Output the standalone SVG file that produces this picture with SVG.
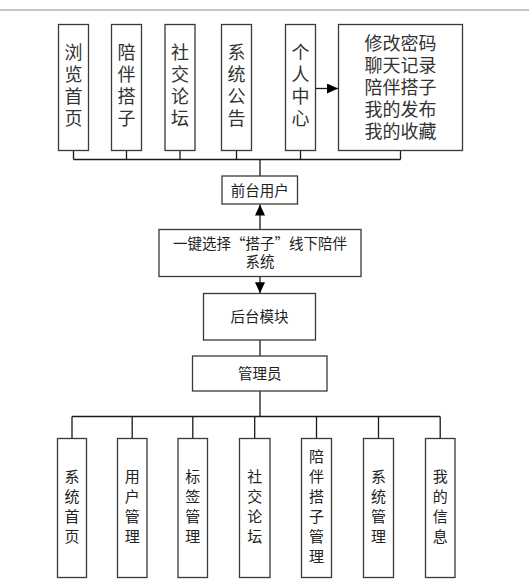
<svg xmlns="http://www.w3.org/2000/svg" width="529" height="587" viewBox="0 0 529 587">
<defs>
<style>
.box{fill:#fff;stroke:#3a3a3a;stroke-width:1.3}
.ln{fill:none;stroke:#1a1a1a;stroke-width:1.3}
.t{font-family:"Noto Sans CJK SC","Noto Sans",sans-serif;fill:#222;text-anchor:middle}
.tt{font-size:18px;fill:#333}
.tm{font-size:14.5px}
.tb{font-size:15px}
.vt{writing-mode:vertical-rl;font-size:18px;letter-spacing:4px;fill:#333}
.vb{writing-mode:vertical-rl;font-size:15px;letter-spacing:5px}
</style>
<marker id="ah" markerUnits="userSpaceOnUse" markerWidth="12" markerHeight="10" refX="11" refY="5" orient="auto">
<path d="M0,0 L11,5 L0,10 Z" fill="#000"/>
</marker>
</defs>
<rect width="529" height="587" fill="#fff"/>
<line x1="0" y1="10" x2="529" y2="10" stroke="#8c8c8c" stroke-width="1.2"/>

<g id="connectors">
<path class="ln" d="M73.5,150.5 V159.5 M126.5,150.5 V159.5 M180,150.5 V159.5 M236.5,150.5 V159.5 M300.5,150.5 V159.5 M400.5,150.5 V159.5 M73.5,159.5 H400.5 M260,159.5 V176"/>
<line class="ln" x1="315.5" y1="88.5" x2="338" y2="88.5" marker-end="url(#ah)"/>
<line class="ln" x1="260" y1="229.5" x2="260" y2="204.5" marker-end="url(#ah)"/>
<line class="ln" x1="260" y1="276.5" x2="260" y2="293.3" marker-end="url(#ah)"/>
<path class="ln" d="M260,340 V356 M260,391 V416.5 M72,416.5 H440.2 M72,416.5 V438.5 M132.2,416.5 V438.5 M192.8,416.5 V438.5 M254.7,416.5 V438.5 M316.5,416.5 V438.5 M378.5,416.5 V438.5 M440.2,416.5 V438.5"/>
</g>

<g id="n-browse"><rect class="box" x="58.5" y="24.5" width="30" height="126"/>
<text class="t vt" x="73.5" y="87.5">浏览首页</text></g>
<g id="n-partner"><rect class="box" x="111.5" y="24.5" width="30" height="126"/>
<text class="t vt" x="126.5" y="87.5">陪伴搭子</text></g>
<g id="n-forum"><rect class="box" x="165" y="24.5" width="30" height="126"/>
<text class="t vt" x="180" y="87.5">社交论坛</text></g>
<g id="n-notice"><rect class="box" x="221.5" y="24.5" width="30" height="126"/>
<text class="t vt" x="236.5" y="87.5">系统公告</text></g>
<g id="n-personal"><rect class="box" x="285.5" y="24.5" width="30" height="126"/>
<text class="t vt" x="300.5" y="87.5">个人中心</text></g>
<g id="n-personal-items"><rect class="box" x="338.5" y="24.5" width="124" height="126"/>
<text class="t tt"><tspan x="400.5" y="50.1">修改密码</tspan><tspan x="400.5" y="72">聊天记录</tspan><tspan x="400.5" y="93.9">陪伴搭子</tspan><tspan x="400.5" y="115.8">我的发布</tspan><tspan x="400.5" y="137.7">我的收藏</tspan></text></g>

<g id="n-front"><rect class="box" x="222" y="176" width="75.5" height="28"/>
<text class="t tm" x="259.8" y="195.5">前台用户</text></g>
<g id="n-system"><rect class="box" x="159" y="229.5" width="202" height="47"/>
<text class="t tm"><tspan x="260" y="248.8">一键选择“搭子”线下陪伴</tspan><tspan x="260" y="267.2">系统</tspan></text></g>
<g id="n-back"><rect class="box" x="203.5" y="293.5" width="112" height="46.5"/>
<text class="t tm" x="259.5" y="322">后台模块</text></g>
<g id="n-admin"><rect class="box" x="192.5" y="356" width="134.5" height="35"/>
<text class="t tm" x="259.8" y="379">管理员</text></g>

<g id="m-home"><rect class="box" x="57.5" y="438.5" width="29" height="139"/>
<text class="t vb" x="72" y="509.2">系统首页</text></g>
<g id="m-user"><rect class="box" x="117.5" y="438.5" width="29.5" height="139"/>
<text class="t vb" x="132.2" y="509.2">用户管理</text></g>
<g id="m-tag"><rect class="box" x="178" y="438.5" width="29.5" height="139"/>
<text class="t vb" x="192.8" y="509.2">标签管理</text></g>
<g id="m-forum"><rect class="box" x="239.5" y="438.5" width="30.5" height="139"/>
<text class="t vb" x="254.7" y="509.2">社交论坛</text></g>
<g id="m-partner"><rect class="box" x="301.5" y="438.5" width="30" height="139"/>
<text class="t vb" x="316.5" y="509.2">陪伴搭子管理</text></g>
<g id="m-sys"><rect class="box" x="363.5" y="438.5" width="30" height="139"/>
<text class="t vb" x="378.5" y="509.2">系统管理</text></g>
<g id="m-info"><rect class="box" x="425.5" y="438.5" width="29.5" height="139"/>
<text class="t vb" x="440.2" y="509.2">我的信息</text></g>
</svg>
